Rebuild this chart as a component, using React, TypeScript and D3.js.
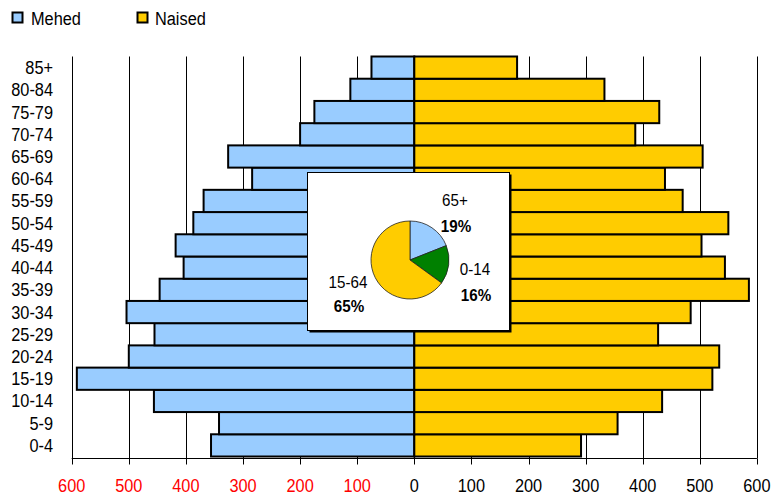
import React from "react";
import * as d3 from "d3";

const ageGroups = ["0-4","5-9","10-14","15-19","20-24","25-29","30-34","35-39","40-44","45-49","50-54","55-59","60-64","65-69","70-74","75-79","80-84","85+"];
const mehed = [356, 342, 456, 591, 500, 455, 504, 446, 404, 418, 387, 369, 284, 326, 200, 175, 112, 75];
const naised = [292, 356, 434, 522, 534, 427, 484, 586, 544, 503, 550, 470, 439, 505, 387, 429, 333, 180];
const tickValues = [-600, -500, -400, -300, -200, -100, 0, 100, 200, 300, 400, 500, 600];
const pieLabels = ["65+", "0-14", "15-64"];
const pieValues = [19, 16, 65];
const seriesNames = ["Mehed", "Naised"];

const BLUE = "#99ccff";
const YELLOW = "#ffcc00";
const GREEN = "#008000";
const FONT = "'Liberation Sans', Arial, sans-serif";

function SText({ x, y, anchor = "start", size = 19, sx = 0.86, fill = "#000", weight = "normal", children }: any) {
  return (
    <g transform={`translate(${x},${y}) scale(${sx},1)`}>
      <text x={0} y={0} textAnchor={anchor} fontSize={size} fontFamily={FONT} fill={fill} fontWeight={weight}>
        {children}
      </text>
    </g>
  );
}

export default function App() {
  const W = 772, H = 495;
  const x = d3.scaleLinear().domain([-600, 600]).range([71.7, 756.9]);
  const y = d3.scaleBand<string>().domain([...ageGroups].reverse()).range([56.5, 456.5]).padding(0);
  const axisY = 458.5;

  const pieGen = d3.pie<number>().sort(null).startAngle(0).endAngle(2 * Math.PI);
  const arcs = pieGen(pieValues);
  const r = 39;
  const arcGen = d3.arc<d3.PieArcDatum<number>>().innerRadius(0).outerRadius(r);
  const pieColors = [BLUE, GREEN, YELLOW];
  const pcx = 410, pcy = 260;

  const pieLabelPos = [
    { x: 455, y1: 205.5, y2: 231.5 },
    { x: 475, y1: 275, y2: 301 },
    { x: 348, y1: 288.3, y2: 312.3 },
  ];

  return (
    <svg width={W} height={H} style={{ position: "absolute", left: 0, top: 0, background: "#fff" }}>
      {/* legend */}
      <rect x={12.5} y={12.5} width={10} height={10} fill={BLUE} stroke="#000" strokeWidth={2} />
      <SText x={31} y={25.3} size={19} sx={0.86}>{seriesNames[0]}</SText>
      <rect x={137.5} y={12.5} width={10} height={10} fill={YELLOW} stroke="#000" strokeWidth={2} />
      <SText x={155} y={25.3} size={19} sx={0.86}>{seriesNames[1]}</SText>

      {/* gridlines */}
      {tickValues.map((t) => (
        <line key={"g" + t} x1={Math.round(x(t)) + 0.5} x2={Math.round(x(t)) + 0.5} y1={56.5} y2={axisY} stroke="#000" strokeWidth={1} />
      ))}

      {/* bars */}
      {ageGroups.map((g, i) => (
        <g key={g}>
          <rect x={x(-mehed[i])} y={y(g)!} width={x(0) - x(-mehed[i])} height={y.bandwidth()} fill={BLUE} stroke="#000" strokeWidth={2} />
          <rect x={x(0)} y={y(g)!} width={x(naised[i]) - x(0)} height={y.bandwidth()} fill={YELLOW} stroke="#000" strokeWidth={2} />
        </g>
      ))}

      {/* x axis */}
      <line x1={x(-600)} x2={x(600)} y1={axisY} y2={axisY} stroke="#000" strokeWidth={1.2} />
      {tickValues.map((t) => (
        <g key={"t" + t}>
          <line x1={Math.round(x(t)) + 0.5} x2={Math.round(x(t)) + 0.5} y1={axisY} y2={axisY + 6} stroke="#000" strokeWidth={1} />
          <SText x={x(t)} y={491.5} anchor="middle" size={19} sx={0.86} fill={t < 0 ? "#ff0000" : "#000"}>
            {String(Math.abs(t))}
          </SText>
        </g>
      ))}

      {/* y labels */}
      {ageGroups.map((g) => (
        <SText key={"l" + g} x={53} y={y(g)! + y.bandwidth() / 2 + 6.5} anchor="end" size={19} sx={0.86}>
          {g}
        </SText>
      ))}

      {/* inset */}
      <rect x={309.5} y={174.5} width={202} height={158} fill="#000" />
      <rect x={307.5} y={172.5} width={202} height={158} fill="#fff" stroke="#000" strokeWidth={1} />
      <g transform={`translate(${pcx},${pcy})`}>
        {arcs.map((a, i) => (
          <path key={"p" + i} d={arcGen(a)!} fill={pieColors[i]} stroke="#222" strokeWidth={0.8} />
        ))}
      </g>
      {pieLabels.map((lab, i) => (
        <g key={"pl" + i}>
          <SText x={pieLabelPos[i].x} y={pieLabelPos[i].y1} anchor="middle" size={16} sx={0.95}>{lab}</SText>
          <SText x={pieLabelPos[i].x + 1} y={pieLabelPos[i].y2} anchor="middle" size={16} sx={0.95} weight="bold">{pieValues[i] + "%"}</SText>
        </g>
      ))}
    </svg>
  );
}
